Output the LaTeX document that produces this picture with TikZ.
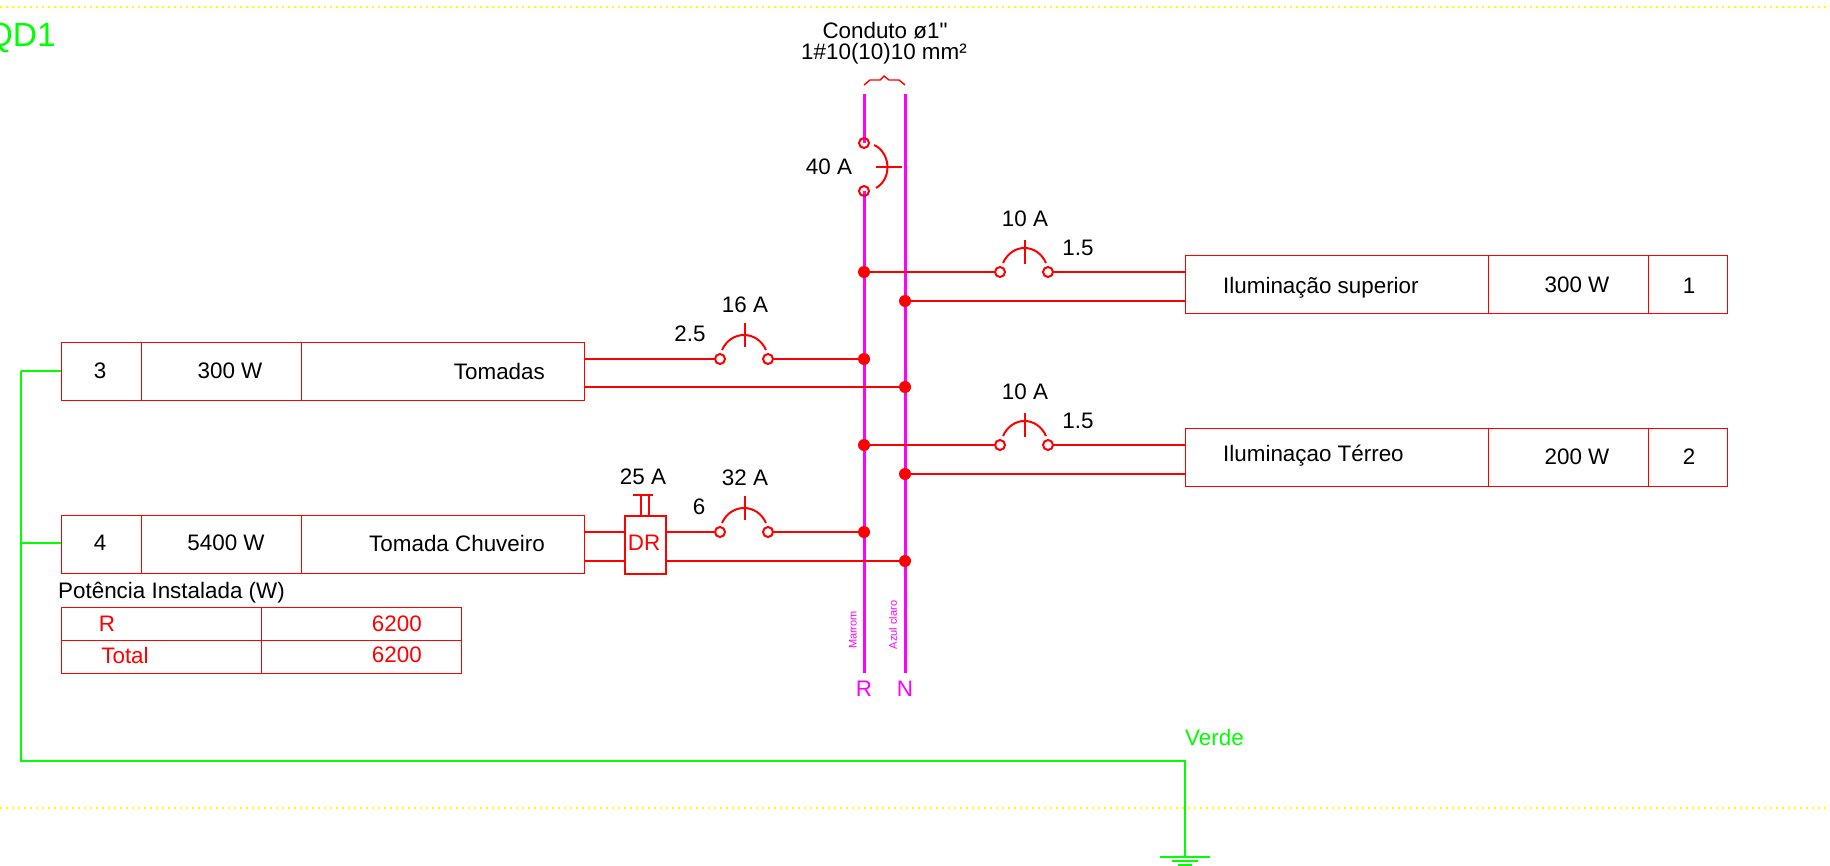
\documentclass[tikz,border=0pt]{standalone}
\usepackage{fontspec}
\setmainfont{Liberation Sans}[Ligatures=TeXOff]
\usetikzlibrary{backgrounds}
\definecolor{qdred}{rgb}{1,0,0}
\definecolor{qdbus}{rgb}{1,0,1}
\definecolor{qdgreen}{rgb}{0,1,0}
\definecolor{qdyellow}{rgb}{1,1,0}
\newcommand{\qdfont}[1]{\fontsize{#1}{#1}\selectfont}
\tikzset{
    wire/.style={draw=qdred, line width=1.4pt},
    trip/.style={draw=qdred, line width=2pt},
    bus/.style={draw=qdbus, line width=3pt},
    earth/.style={draw=qdgreen, line width=2.2pt},
    guide/.style={draw=qdyellow, line width=1.5pt, dash pattern=on 1.5pt off 4.5pt},
    cell/.style={wire, anchor=north west, inner sep=0pt},
    term/.style={circle, trip, fill=none, minimum size=10pt, inner sep=0pt},
    joint/.style={circle, fill=qdred, minimum size=12pt, inner sep=0pt},
    lbl/.style={inner sep=0pt, font=\qdfont{22.4}},
    redlbl/.style={lbl, text=qdred},
    buslbl/.style={lbl, text=qdbus},
    greenlbl/.style={lbl, text=qdgreen},
}
\begin{document}
\begin{tikzpicture}[x=1pt, y=-1pt]
    \useasboundingbox (0,0) rectangle (1830,865);
    % Add terminals and joints
    \node[term] (mainA) at (864,143) {};
    \node[term] (mainB) at (864,191) {};
    \node[term] (supA) at (1000,272) {};
    \node[term] (supB) at (1048,272) {};
    \node[term] (terA) at (1000,445) {};
    \node[term] (terB) at (1048,445) {};
    \node[term] (tomA) at (720,359) {};
    \node[term] (tomB) at (768,359) {};
    \node[term] (chuA) at (720,532) {};
    \node[term] (chuB) at (768,532) {};
    \node[joint] (jsupR) at (864,272) {};
    \node[joint] (jsupN) at (905,301) {};
    \node[joint] (jtomR) at (864,359) {};
    \node[joint] (jtomN) at (905,387) {};
    \node[joint] (jterR) at (864,445) {};
    \node[joint] (jterN) at (905,474) {};
    \node[joint] (jchuR) at (864,532) {};
    \node[joint] (jchuN) at (905,561) {};
    % Add bus bars and page guides
    \coordinate (rTop) at (864,94);
    \coordinate (rEnd) at (864,673);
    \coordinate (nTop) at (905,94);
    \coordinate (nEnd) at (905,673);
    \coordinate (gtl) at (0,7);
    \coordinate (gtr) at (1830,7);
    \coordinate (gbl) at (0,808);
    \coordinate (gbr) at (1830,808);
    \begin{scope}[on background layer]
    \draw[guide] (gtl) -- (gtr);
    \draw[guide] (gbl) -- (gbr);
    \draw[bus] (rTop) -- (mainA.center);
    \draw[bus] (mainB.center) -- (rEnd);
    \draw[bus] (nTop) -- (nEnd);
    \end{scope}
    % Add boxes
    \node[cell, minimum width=80pt, minimum height=58pt] (tom1) at (61,342) {};
    \node[cell, minimum width=160pt, minimum height=58pt] (tom2) at (141,342) {};
    \node[cell, minimum width=283pt, minimum height=58pt] (tom3) at (301,342) {};
    \node[cell, minimum width=80pt, minimum height=58pt] (chu1) at (61,515) {};
    \node[cell, minimum width=160pt, minimum height=58pt] (chu2) at (141,515) {};
    \node[cell, minimum width=283pt, minimum height=58pt] (chu3) at (301,515) {};
    \node[cell, minimum width=303pt, minimum height=58pt] (sup1) at (1185,255) {};
    \node[cell, minimum width=160pt, minimum height=58pt] (sup2) at (1488,255) {};
    \node[cell, minimum width=79pt, minimum height=58pt] (sup3) at (1648,255) {};
    \node[cell, minimum width=303pt, minimum height=58pt] (ter1) at (1185,428) {};
    \node[cell, minimum width=160pt, minimum height=58pt] (ter2) at (1488,428) {};
    \node[cell, minimum width=79pt, minimum height=58pt] (ter3) at (1648,428) {};
    \node[cell, minimum width=200pt, minimum height=33pt] (pot1) at (61,607) {};
    \node[cell, minimum width=200pt, minimum height=33pt] (pot2) at (61,640) {};
    \node[cell, minimum width=200pt, minimum height=33pt] (pot3) at (261,607) {};
    \node[cell, minimum width=200pt, minimum height=33pt] (pot4) at (261,640) {};
    \node[cell, trip, minimum width=41pt, minimum height=58pt] (dr) at (624,515) {};
    % Add wires
    \coordinate (supF) at (sup1.west |- jsupR);
    \coordinate (supG) at (sup1.west |- jsupN);
    \coordinate (terF) at (ter1.west |- jterR);
    \coordinate (terG) at (ter1.west |- jterN);
    \coordinate (tomF) at (tom3.east |- jtomR);
    \coordinate (tomG) at (tom3.east |- jtomN);
    \coordinate (chuF) at (chu3.east |- jchuR);
    \coordinate (chuG) at (chu3.east |- jchuN);
    \coordinate (drF) at (dr.west |- jchuR);
    \coordinate (drG) at (dr.west |- jchuN);
    \coordinate (drH) at (dr.east |- jchuR);
    \coordinate (drI) at (dr.east |- jchuN);
    \draw[wire] (jsupR) -- (supA);
    \draw[wire] (supB) -- (supF);
    \draw[wire] (jsupN) -- (supG);
    \draw[wire] (jterR) -- (terA);
    \draw[wire] (terB) -- (terF);
    \draw[wire] (jterN) -- (terG);
    \draw[wire] (tomF) -- (tomA);
    \draw[wire] (tomB) -- (jtomR);
    \draw[wire] (tomG) -- (jtomN);
    \draw[wire] (chuF) -- (drF);
    \draw[wire] (chuG) -- (drG);
    \draw[wire] (drH) -- (chuA);
    \draw[wire] (chuB) -- (jchuR);
    \draw[wire] (drI) -- (jchuN);
    % Add breaker arcs
    \draw[trip] (874,145) .. controls (890,152) and (893,178) .. (876,188);
    \draw[trip] (876,167) -- (902,167);
    \draw[trip] (1003,263) .. controls (1012,243) and (1037,243) .. (1046,263);
    \draw[trip] (1025,240) -- (1025,264);
    \draw[trip] (1003,436) .. controls (1012,416) and (1037,416) .. (1046,436);
    \draw[trip] (1025,413) -- (1025,437);
    \draw[trip] (722,350) .. controls (731,330) and (757,330) .. (766,350);
    \draw[trip] (745,323) -- (745,347);
    \draw[trip] (722,523) .. controls (731,503) and (757,503) .. (766,523);
    \draw[trip] (745,496) -- (745,520);
    % Add test button and conduit brace
    \draw[trip] (641,515) -- (641,495);
    \draw[trip] (649,515) -- (649,495);
    \draw[trip] (633,495) -- (653,495);
    \draw[wire] (864,85) -- (870,80) -- (880,80) -- (884,76) -- (889,80) -- (899,80) -- (905,85);
    % Add ground
    \coordinate (tom0) at (21,371);
    \coordinate (chu0) at (21,543);
    \coordinate (gnd0) at (21,761);
    \coordinate (gnd1) at (1185,761);
    \coordinate (gnd2) at (1185,857);
    \draw[earth] (tom0) -- (tom1.west |- tom0);
    \draw[earth] (chu0) -- (chu1.west |- chu0);
    \draw[earth] (tom0) -- (gnd0) -- (gnd1) -- (gnd2);
    \draw[earth] (1160,857) -- (1210,857);
    \draw[earth] (1172,861) -- (1198,861);
    \draw[earth] (1178,865) -- (1192,865);
    % Add labels
    \node[greenlbl, anchor=east, font=\qdfont{33.5}] (title) at (56,38) {QD1};
    \node[lbl] (cond1) at (885,31) {Conduto ø1"};
    \node[lbl] (cond2) at (884,54) {1\#10(10)10 mm²};
    \node[lbl] (amain) at (829,167) {40 A};
    \node[lbl] (asup) at (1025,219) {10 A};
    \node[lbl] (ssup) at (1078,248) {1.5};
    \node[lbl] (ater) at (1025,392) {10 A};
    \node[lbl] (ster) at (1078,421) {1.5};
    \node[lbl] (atom) at (745,305) {16 A};
    \node[lbl] (stom) at (690,334) {2.5};
    \node[lbl] (adr) at (643,477) {25 A};
    \node[lbl] (achu) at (745,478) {32 A};
    \node[lbl] (schu) at (699,507) {6};
    \node[redlbl] (ldr) at (644,543) {DR};
    \node[lbl] (ntom) at (100,371) {3};
    \node[lbl] (wtom) at (230,371) {300 W};
    \node[lbl, anchor=east] (ttom) at (545,371) {Tomadas};
    \node[lbl] (nchu) at (100,543) {4};
    \node[lbl] (wchu) at (226,543) {5400 W};
    \node[lbl, anchor=east] (tchu) at (545,543) {Tomada Chuveiro};
    \node[lbl, anchor=west] (tsup) at (1223,288) {Iluminação superior};
    \node[lbl] (wsup) at (1577,285) {300 W};
    \node[lbl] (nsup) at (1689,286) {1};
    \node[lbl, anchor=west] (tter) at (1223,456) {Iluminaçao Térreo};
    \node[lbl] (wter) at (1577,457) {200 W};
    \node[lbl] (nter) at (1689,457) {2};
    \node[lbl, anchor=west] (tpot) at (58,593) {Potência Instalada (W)};
    \node[redlbl] (pr) at (107,624) {R};
    \node[redlbl] (ptot) at (125,655) {Total};
    \node[redlbl, anchor=east] (pv1) at (422,624) {6200};
    \node[redlbl, anchor=east] (pv2) at (422,655) {6200};
    \node[buslbl] (lr) at (864,689) {R};
    \node[buslbl] (ln) at (905,689) {N};
    \node[buslbl, rotate=90, font=\qdfont{11}] (lmar) at (853,630) {Marrom};
    \node[buslbl, rotate=90, font=\qdfont{11}] (laz) at (893,625) {Azul claro};
    \node[greenlbl, anchor=west] (lver) at (1185,737) {Verde};
\end{tikzpicture}
\end{document}
